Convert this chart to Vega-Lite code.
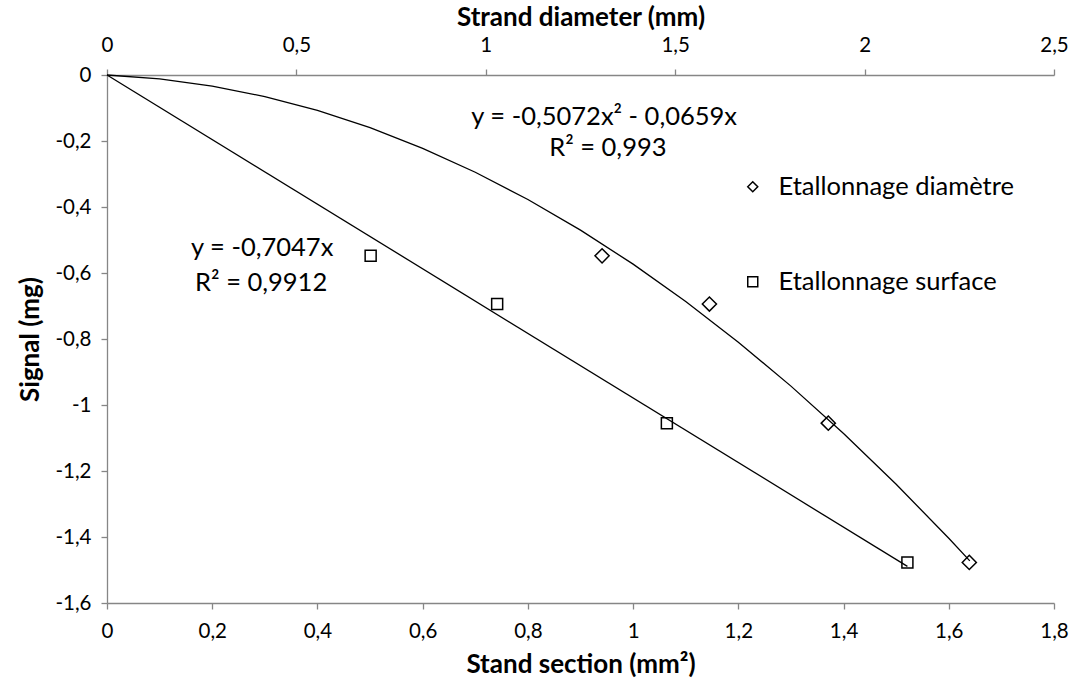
{
  "$schema": "https://vega.github.io/schema/vega-lite/v6.json",
  "width": 947,
  "height": 528,
  "autosize": {"type": "none"},
  "padding": {"left": 107, "top": 75, "right": 19, "bottom": 80},
  "background": "white",
  "config": {
    "view": {"stroke": null},
    "font": "Lato",
    "axis": {
      "grid": false,
      "domainColor": "#868686",
      "domainWidth": 1.3,
      "tickColor": "#868686",
      "tickWidth": 1.3,
      "tickSize": 6,
      "labelColor": "black",
      "labelFont": "Lato",
      "labelFontSize": 20.5,
      "labelFlush": false,
      "labelOverlap": false,
      "titleFont": "Lato",
      "titleFontSize": 26,
      "titleFontWeight": "bold",
      "titleColor": "black"
    },
    "legend": {
      "labelFont": "Lato",
      "labelFontSize": 25.5,
      "labelColor": "black",
      "labelLimit": 0
    }
  },
  "datasets": {
    "curve": [
      {"xs": 0, "y": 0},
      {"xs": 0.1, "y": -0.0117},
      {"xs": 0.2, "y": -0.0335},
      {"xs": 0.3, "y": -0.0654},
      {"xs": 0.4, "y": -0.1075},
      {"xs": 0.5, "y": -0.1598},
      {"xs": 0.6, "y": -0.2221},
      {"xs": 0.7, "y": -0.2947},
      {"xs": 0.8, "y": -0.3773},
      {"xs": 0.9, "y": -0.4701},
      {"xs": 1.0, "y": -0.5731},
      {"xs": 1.1, "y": -0.6862},
      {"xs": 1.2, "y": -0.8095},
      {"xs": 1.3, "y": -0.9428},
      {"xs": 1.4, "y": -1.0864},
      {"xs": 1.5, "y": -1.2401},
      {"xs": 1.6, "y": -1.4039},
      {"xs": 1.64, "y": -1.4722}
    ],
    "diametre": [
      {"xs": 0.941, "y": -0.548, "series": "Etallonnage diamètre"},
      {"xs": 1.145, "y": -0.694, "series": "Etallonnage diamètre"},
      {"xs": 1.371, "y": -1.055, "series": "Etallonnage diamètre"},
      {"xs": 1.639, "y": -1.477, "series": "Etallonnage diamètre"}
    ],
    "notes": [
      {"xs": 0.945, "y": -0.127, "label": "y = -0,5072x² - 0,0659x"},
      {"xs": 0.952, "y": -0.221, "label": "R² = 0,993"},
      {"xs": 0.295, "y": -0.524, "label": "y = -0,7047x"},
      {"xs": 0.293, "y": -0.630, "label": "R² = 0,9912"}
    ],
    "line": [
      {"xd": 0, "y": 0},
      {"xd": 2.113, "y": -1.489}
    ],
    "surface": [
      {"xd": 0.696, "y": -0.548, "series": "Etallonnage surface"},
      {"xd": 1.030, "y": -0.694, "series": "Etallonnage surface"},
      {"xd": 1.478, "y": -1.055, "series": "Etallonnage surface"},
      {"xd": 2.113, "y": -1.477, "series": "Etallonnage surface"}
    ]
  },
  "encoding": {
    "y": {
      "field": "y",
      "type": "quantitative",
      "scale": {"domain": [-1.6, 0], "nice": false, "zero": false},
      "axis": {
        "title": "Signal (mg)",
        "values": [-1.6, -1.4, -1.2, -1, -0.8, -0.6, -0.4, -0.2, 0],
        "labelExpr": "replace(replace(format(datum.value, '~f'), '.', ','), '\u2212', '-')",
        "labelPadding": 10,
        "titlePadding": 11
      }
    }
  },
  "layer": [
    {
      "encoding": {
        "x": {
          "field": "xs",
          "type": "quantitative",
          "scale": {"domain": [0, 1.8], "nice": false},
          "axis": {
            "orient": "bottom",
            "title": "Stand section (mm²)",
            "values": [0, 0.2, 0.4, 0.6, 0.8, 1, 1.2, 1.4, 1.6, 1.8],
            "labelExpr": "replace(format(datum.value, '~f'), '.', ',')",
            "labelPadding": 12,
            "titlePadding": 10
          }
        }
      },
      "layer": [
        {
          "data": {"name": "curve"},
          "mark": {"type": "line", "color": "black", "strokeWidth": 1.3}
        },
        {
          "data": {"name": "diametre"},
          "mark": {"type": "point", "filled": false, "color": "black", "strokeWidth": 1.5, "size": 200, "opacity": 1},
          "encoding": {
            "shape": {
              "field": "series",
              "type": "nominal",
              "scale": {"domain": ["Etallonnage diamètre", "Etallonnage surface"], "range": ["diamond", "square"]},
              "legend": {
                "title": null,
                "orient": "none",
                "legendX": 633,
                "legendY": 99,
                "symbolSize": 100,
                "symbolStrokeColor": "black",
                "symbolStrokeWidth": 1.5,
                "symbolFillColor": "white",
                "labelOffset": 13,
                "rowPadding": 68,
                "padding": 0
              }
            }
          }
        },
        {
          "data": {"name": "notes"},
          "mark": {"type": "text", "font": "Lato", "fontSize": 25.5, "color": "black", "align": "center", "baseline": "middle"},
          "encoding": {"text": {"field": "label", "type": "nominal"}}
        }
      ]
    },
    {
      "encoding": {
        "x": {
          "field": "xd",
          "type": "quantitative",
          "scale": {"domain": [0, 2.5], "nice": false},
          "axis": {
            "orient": "top",
            "title": "Strand diameter (mm)",
            "values": [0, 0.5, 1, 1.5, 2, 2.5],
            "labelExpr": "replace(format(datum.value, '~f'), '.', ',')",
            "labelPadding": 14,
            "titlePadding": 5
          }
        }
      },
      "layer": [
        {
          "data": {"name": "line"},
          "mark": {"type": "line", "color": "black", "strokeWidth": 1.3}
        },
        {
          "data": {"name": "surface"},
          "mark": {"type": "point", "filled": false, "color": "black", "strokeWidth": 1.5, "size": 121, "opacity": 1},
          "encoding": {
            "shape": {"field": "series", "type": "nominal"}
          }
        }
      ]
    }
  ],
  "resolve": {"scale": {"x": "independent"}}
}
